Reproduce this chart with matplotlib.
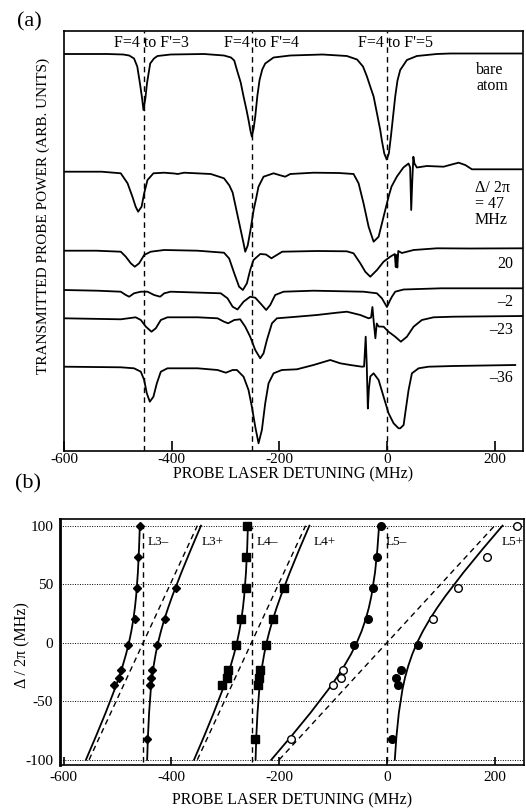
import matplotlib
matplotlib.use("Agg")
import matplotlib.pyplot as plt

plt.rcParams['font.family'] = ['Liberation Serif', 'DejaVu Serif']
plt.rcParams['axes.unicode_minus'] = False
plt.rcParams['mathtext.fontset'] = 'stix'

# ---------------- Panel (a) data: transmitted probe traces (arb. units) ----------------
bare_x = [-600, -520, -490, -479, -470, -464, -459, -455, -452.5, -449, -446, -440, -433, -426.5, -402, -340,
          -303, -290, -284, -279, -272, -266.7, -261, -257.5, -254, -251.3, -248, -245, -241, -237, -232, -226.5,
          -211, -180, -120, -75, -56, -45, -37.7, -31.6, -25.3, -19, -13, -10, -5.5, -1, 3, 6.8, 10, 14.8, 19,
          24.1, 36.5, 55, 92, 117, 180, 252]
bare_y = [396.5, 396.5, 396, 395, 392, 384, 367, 352, 340.5, 352, 367, 387, 392, 394.5, 396, 396.5,
          395, 393, 390, 380.5, 368, 354, 340, 330.5, 320, 313.8, 322, 334, 355, 370.5, 381, 387,
          393, 395, 396, 394.5, 391, 384, 374, 364, 354, 337, 320.5, 310, 297, 291, 297, 314, 330, 354, 370,
          380.5, 390.5, 394.5, 396.5, 397, 397, 397]

d47_x = [-600, -530, -494.6, -482, -473, -467, -462.4, -456, -451.2, -445, -434, -414, -395, -389, -377, -327.5,
         -303, -293, -287, -279, -271, -266.7, -263.6, -259, -254, -248, -243, -239, -229.6, -211, -198.7, -189.4,
         -180, -136.8, -90, -62.5, -53.2, -44, -34.6, -25.3, -16, -6.8, 2.5, 8, 18, 30, 39.6, 42.5, 44.5, 46.5,
         48.5, 50.5, 55, 73.6, 104.6, 123, 132.4, 144.8, 157.2, 252]
d47_y = [278.8, 278.8, 277.2, 267.2, 253.8, 243.8, 238.8, 243.8, 257.2, 270.5, 277.2, 277.8, 277, 276.5, 277.8, 276.5,
         272.2, 265, 258, 238, 218, 207.2, 198.8, 205, 220, 240.5, 253, 263.8, 273.8, 277.2, 275.2, 273.8,
         276.5, 277.8, 277.5, 276.5, 267.2, 247.2, 223.8, 208.8, 213.8, 233.8, 253.8, 264, 274, 283, 287, 283,
         240.5, 270, 293.8, 287, 283, 284.5, 283.8, 286.5, 287.8, 285.5, 281.2, 281.2]

d20_x = [-600, -540, -494.6, -485.3, -476, -468.6, -460.5, -451.2, -439, -414, -352, -303, -293.4, -284, -275,
         -268, -260.5, -254.4, -248.2, -235.8, -225, -215, -205, -195, -130, -75, -62.5, -50, -40.8, -31.5, -19,
         -6.8, 5.6, 14, 15.8, 17.2, 18.7, 20.5, 27.2, 48.9, 92.2, 154, 252]
d20_y = [199.8, 199.8, 198.8, 193.8, 187.2, 183.8, 187.2, 195.5, 198.8, 200.5, 199.8, 197.8, 192, 177.2, 163.8,
         160.5, 167.2, 180.5, 190.5, 196.5, 196, 192.2, 195.5, 198.8, 199.5, 199.2, 197.2, 187.2, 178.8, 173.8, 180.5,
         188.8, 193.8, 196.5, 183.5, 195.5, 183, 199.5, 197.5, 200.5, 202.2, 202, 202.2]

dm2_x = [-600, -538, -494.6, -485.3, -479, -470, -457.4, -445, -432.7, -421.5, -414, -402, -309, -296.5, -287,
         -278, -266.7, -254.4, -245, -232.7, -224.7, -217.2, -208, -192.5, -136.8, -44, -19.2, -9.9, -0.6, 5.5,
         8.7, 14.8, 30.3, 100, 252]
dm2_y = [160.5, 159.8, 158.8, 155.5, 153.8, 157.2, 158.8, 158.8, 155.5, 153.8, 157.2, 158.8, 157.2, 152.2, 143.8,
         141, 148.8, 153.8, 152.8, 145.5, 140.5, 145.5, 155.5, 158.8, 159.8, 158.8, 157.2, 152.2, 143.5, 150.5,
         153.8, 158.8, 161, 162.2, 162.2]

dm23_x = [-600, -494.6, -467, -457.4, -448, -437.6, -429.6, -420.3, -408, -352, -315, -303, -295.3, -284, -273,
          -263.6, -254.4, -245, -235.8, -229.6, -223.4, -214, -204.8, -167.7, -130.6, -93.4, -74.8, -50, -34.6,
          -30, -27.5, -25, -22, -19.5, -16, -6.8, 2.4, 14.8, 25.3, 36.5, 48.9, 64.3, 86, 123, 252]
dm23_y = [132.2, 131.2, 133.2, 130.5, 123.8, 118.8, 122.2, 130.5, 133.2, 133.2, 132.2, 128.8, 127.2, 130.5, 131.2,
          123.8, 113.8, 100.5, 92.2, 97.2, 110.5, 127.2, 132.2, 133.8, 135.5, 137.8, 138.8, 135.5, 132.2,
          133, 143.5, 128, 112.2, 127, 124, 123.8, 118.8, 113.8, 108.8, 113.8, 123.8, 130.5, 133.2, 133.8, 134.5]

dm36_x = [-600, -494.6, -470, -457.4, -451.2, -446.3, -440.7, -434, -427.7, -420.3, -408, -352, -315, -299.6,
          -287, -279, -266.7, -257.5, -251.3, -245, -238.9, -232.7, -226.5, -220.3, -211, -195.6, -167.7, -136.8,
          -105.8, -87.3, -68.7, -47, -43, -40, -38, -36, -34, -31.5, -25.3, -16, -6.8, 2.5, 11.8, 21, 24.1,
          30.4, 33.4, 39.6, 45.8, 58.2, 76.7, 123, 237.6]
dm36_y = [83.8, 83.2, 82.2, 78.8, 70.5, 57.2, 48.8, 53.8, 67.2, 78.8, 82.2, 82.2, 80.5, 77.8,
          80.5, 80.5, 73.8, 60.5, 43.8, 23.8, 7.2, 20.5, 47.2, 67.2, 77.2, 80.5, 81.2, 85.5,
          90.5, 87.2, 85.5, 83.8, 84, 113.8, 85, 42, 62, 74, 77.2, 70.5, 53.8, 37.2, 27.2, 22.2, 22.2,
          25.5, 37.2, 60.5, 77.2, 82.2, 83.8, 84.5, 85.5]

traces_x = [bare_x, d47_x, d20_x, dm2_x, dm23_x, dm36_x]
traces_y = [bare_y, d47_y, d20_y, dm2_y, dm23_y, dm36_y]

bare_lines = [-452, -251, 0]
transition_labels = ["F=4 to F'=3", "F=4 to F'=4", "F=4 to F'=5"]
transition_label_x = [-437, -233, 15]

detuning_labels = ["20", "\u20132", "\u201323", "\u201336"]
detuning_label_y = [187, 149, 120.5, 72.2]

# ---------------- Panel (b) data ----------------
delta_curve = [-100, -80, -60, -40, -30, -20, -10, 0, 10, 20, 30, 40, 60, 80, 100]
L3m_curve = [-558.8, -540.3, -522.4, -505.6, -497.9, -490.8, -484.5, -479, -474.5, -470.8, -467.9, -465.6, -462.4, -460.3, -458.8]
L3p_curve = [-445.2, -443.7, -441.6, -438.4, -436.1, -433.2, -429.5, -425, -419.5, -413.2, -406.1, -398.4, -381.6, -363.7, -345.2]
L4m_curve = [-358.1, -339.5, -321.7, -305, -297.3, -290.3, -284, -278.5, -274, -270.3, -267.3, -265, -261.7, -259.5, -258.1]
L4p_curve = [-243.9, -242.5, -240.3, -237, -234.7, -231.7, -228, -223.5, -218, -211.7, -204.7, -197, -180.3, -162.5, -143.9]
L5m_curve = [-214.6, -177.7, -142.1, -108.8, -93.5, -79.5, -66.9, -56, -46.9, -39.5, -33.5, -28.8, -22.1, -17.7, -14.6]
L5p_curve = [14.6, 17.7, 22.1, 28.8, 33.5, 39.5, 46.9, 56, 66.9, 79.5, 93.5, 108.8, 142.1, 177.7, 214.6]

# dressed bare lines (dashed diagonals): endpoints (x at delta=-100, x at delta=+100)
diag_delta = [-100, 100]
diag_L3 = [-553, -352]
diag_L4 = [-352, -151]
diag_L5 = [-200, 200]

# measured points
L3m_d = [100, 73, 47, 20, -2, -23, -30, -36]
L3m_x = [-458, -463, -464, -468, -481, -494, -497, -507]
L3p_d = [47, 20, -2, -23, -30, -36, -82]
L3p_x = [-392, -412, -426, -437, -438, -440, -446]
L4m_d = [100, 73, 47, 20, -2, -23, -30, -36]
L4m_x = [-259, -261, -262, -271, -280, -295, -297, -307]
L4p_d = [47, 20, -2, -23, -30, -36, -82]
L4p_x = [-191, -211, -225, -236, -237, -239, -245]
L5_fill_d = [100, 73, 47, 20, -2, -2, -23, -30, -36, -82]
L5_fill_x = [-11, -18, -25, -35, -62, 58, 26, 17, 20, 10]
L5_open_d = [-23, -30, -36, -82, 20, 47, 73, 100]
L5_open_x = [-81, -85, -101, -179, 85, 132, 185, 241]

line_labels = ["L3\u2013", "L3+", "L4\u2013", "L4+", "L5\u2013", "L5+"]
line_label_x = [-444, -344, -242, -136, -2, 213]

W, H = 526, 811
fig = plt.figure(figsize=(W / 100, H / 100), dpi=100)

# ================= Panel (a) =================
ax1 = fig.add_axes([64 / W, 1 - 450.5 / H, (523 - 64) / W, (450.5 - 31) / H])
ax1.set_xlim(-600, 252)
ax1.set_ylim(0, 419.5)
for xv in bare_lines:
    ax1.axvline(xv, color='black', lw=1.0, ls=(0, (4, 3)), zorder=1)
for tx, ty in zip(traces_x, traces_y):
    ax1.plot(tx, ty, color='black', lw=1.3, solid_joinstyle='round', zorder=3)
ax1.set_yticks([])
ax1.set_xticks([-600, -400, -200, 0, 200])
ax1.set_xticklabels(['-600', '-400', '-200', '0', '200'])
ax1.tick_params(axis='x', direction='in', length=7, width=1.2, labelsize=11, pad=2)
for s in ax1.spines.values():
    s.set_linewidth(1.2)
for lab, lx in zip(transition_labels, transition_label_x):
    ax1.text(lx, 407.5, lab, ha='center', va='center', fontsize=11.5)
ax1.text(165, 380.5, "bare", ha='left', va='center', fontsize=11.5)
ax1.text(165, 365, "atom", ha='left', va='center', fontsize=11.5)
ax1.text(162, 262, "\u0394/ 2\u03c0", ha='left', va='center', fontsize=11.5)
ax1.text(162, 246.5, "= 47", ha='left', va='center', fontsize=11.5)
ax1.text(162, 231, "MHz", ha='left', va='center', fontsize=11.5)
for lab, ly in zip(detuning_labels, detuning_label_y):
    ax1.text(234, ly, lab, ha='right', va='center', fontsize=11.5)

fig.text(43 / W, 1 - 216 / H, "TRANSMITTED PROBE POWER (ARB. UNITS)", rotation=90,
         ha='center', va='center', fontsize=11)
fig.text(293.5 / W, 1 - 474 / H, "PROBE LASER DETUNING (MHz)", ha='center', va='center', fontsize=11.5)
fig.text(29 / W, 1 - 22 / H, "(a)", ha='center', va='center', fontsize=16)
fig.text(28 / W, 1 - 484 / H, "(b)", ha='center', va='center', fontsize=16)

# ================= Panel (b) =================
ax2 = fig.add_axes([60 / W, 1 - 765 / H, (524 - 60) / W, (765 - 519) / H])
ax2.set_xlim(-607, 254.5)
ax2.set_ylim(-104.5, 105.7)
for yv in [-100, -50, 0, 50, 100]:
    ax2.axhline(yv, color='black', lw=0.7, ls=(0, (1, 1.5)), zorder=1)
for xv in bare_lines:
    ax2.plot([xv, xv], [-102, 99], color='black', lw=1.0, ls=(0, (4, 3)), zorder=2)
for dx in (diag_L3, diag_L4, diag_L5):
    ax2.plot(dx, diag_delta, color='black', lw=1.0, ls=(0, (4, 3)), zorder=2)
for cx in (L3m_curve, L3p_curve, L4m_curve, L4p_curve, L5m_curve, L5p_curve):
    ax2.plot(cx, delta_curve, color='black', lw=1.3, zorder=3)
ax2.plot(L3m_x, L3m_d, 'D', color='black', ms=4.2, zorder=4)
ax2.plot(L3p_x, L3p_d, 'D', color='black', ms=4.2, zorder=4)
ax2.plot(L4m_x, L4m_d, 's', color='black', ms=5.5, zorder=4)
ax2.plot(L4p_x, L4p_d, 's', color='black', ms=5.5, zorder=4)
ax2.plot(L5_fill_x, L5_fill_d, 'o', color='black', ms=5.5, zorder=4)
ax2.plot(L5_open_x, L5_open_d, 'o', mfc='white', mec='black', mew=1.0, ms=5.5, zorder=4)
for lab, lx in zip(line_labels, line_label_x):
    ax2.text(lx, 85.7, lab, ha='left', va='center', fontsize=9.5)

ax2.set_xticks([-600, -400, -200, 0, 200])
ax2.set_xticklabels(['-600', '-400', '-200', '0', '200'])
ax2.set_yticks([-100, -50, 0, 50, 100])
ax2.set_yticklabels(['-100', '-50', '0', '50', '100'])
ax2.tick_params(axis='x', direction='in', length=6, width=1.2, labelsize=11, pad=4)
ax2.tick_params(axis='y', length=0, labelsize=11, pad=5)
for s in ax2.spines.values():
    s.set_linewidth(1.2)
ax2.spines['left'].set_linewidth(2.0)

fig.text(292.5 / W, 1 - 800 / H, "PROBE LASER DETUNING (MHz)", ha='center', va='center', fontsize=11.5)
fig.text(22 / W, 1 - 645 / H, "\u0394 / 2\u03c0 (MHz)", rotation=90, ha='center', va='center', fontsize=11.5)

fig.savefig("out.png", dpi=100)
